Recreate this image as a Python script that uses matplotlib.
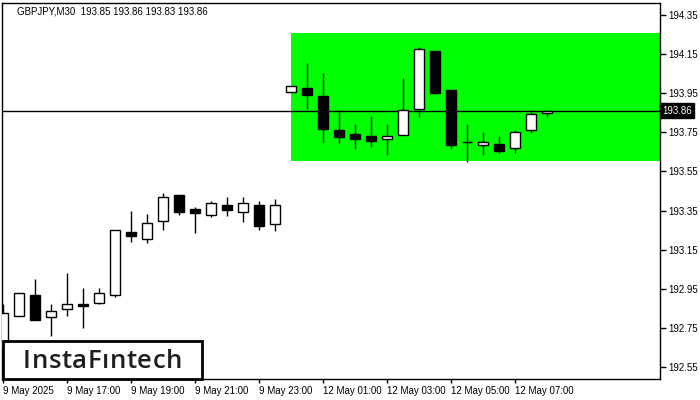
import matplotlib
matplotlib.use("Agg")
import matplotlib.pyplot as plt
from matplotlib.patches import Rectangle
from matplotlib.transforms import blended_transform_factory

# ---- data ----
opens = [192.64, 192.81, 192.92, 192.805, 192.845, 192.872, 192.88, 192.92, 193.24, 193.205,
         193.295, 193.43, 193.357, 193.326, 193.377, 193.344, 193.377, 193.283, 193.955, 193.975,
         193.936, 193.762, 193.742, 193.731, 193.718, 193.738, 193.871, 194.164, 193.965, 193.699,
         193.687, 193.69, 193.668, 193.76, 193.85]
highs = [192.87, 192.93, 193.00, 192.87, 193.03, 192.955, 192.955, 193.25, 193.35, 193.33,
         193.44, 193.43, 193.367, 193.40, 193.42, 193.42, 193.40, 193.41, 193.985, 194.105,
         194.053, 193.863, 193.793, 193.834, 193.793, 194.028, 194.186, 194.164, 193.965, 193.793,
         193.752, 193.731, 193.762, 193.863, 193.86]
lows = [192.60, 192.81, 192.79, 192.71, 192.81, 192.75, 192.87, 192.91, 193.19, 193.185,
        193.25, 193.325, 193.237, 193.316, 193.324, 193.293, 193.252, 193.247, 193.955, 193.871,
        193.697, 193.697, 193.666, 193.677, 193.636, 193.738, 193.83, 193.953, 193.666, 193.60,
        193.636, 193.646, 193.646, 193.748, 193.83]
closes = [192.825, 192.93, 192.79, 192.835, 192.87, 192.864, 192.93, 193.25, 193.22, 193.285,
          193.42, 193.345, 193.336, 193.387, 193.355, 193.387, 193.273, 193.377, 193.985, 193.943,
          193.769, 193.728, 193.718, 193.707, 193.731, 193.863, 194.175, 193.953, 193.687, 193.699,
          193.699, 193.656, 193.75, 193.842, 193.86]

x_tick_idx = [0, 4, 8, 12, 16, 20, 24, 28, 32]
x_tick_labels = ['9 May 2025', '9 May 17:00', '9 May 19:00', '9 May 21:00', '9 May 23:00',
                 '12 May 01:00', '12 May 03:00', '12 May 05:00', '12 May 07:00']
y_ticks = [192.55, 192.75, 192.95, 193.15, 193.35, 193.55, 193.75, 193.95, 194.15, 194.35]

zone_start = 18
zone_top = 194.258
zone_bottom = 193.605
current_price = 193.86
title = "GBPJPY,M30  193.85 193.86 193.83 193.86"
logo = "InstaF\u0131ntech"

FONT = "Liberation Sans"

fig = plt.figure(figsize=(7, 4), dpi=100)
fig.patch.set_facecolor("white")
ax = fig.add_axes([2/700, 21/400, 658/700, 376/400])

xmin, xmax = -0.08, 41.04
ax.set_xlim(xmin, xmax)
ax.set_ylim(192.489, 194.411)

# green zone
ax.add_patch(Rectangle((zone_start, zone_bottom), xmax - zone_start + 1, zone_top - zone_bottom,
                       facecolor="#00ff00", edgecolor="none", zorder=1))

# current price line
ax.axhline(current_price, color="black", lw=1, zorder=2)

# candles
w = 0.62
for i, (o, h, l, c) in enumerate(zip(opens, highs, lows, closes)):
    ax.vlines(i, l, h, color="black", lw=1, zorder=3)
    if abs(c - o) < 1e-6:
        ax.hlines(o, i - w/2, i + w/2, color="black", lw=1, zorder=4)
    else:
        fc = "white" if c > o else "black"
        ax.add_patch(Rectangle((i - w/2, min(o, c)), w, abs(c - o),
                               facecolor=fc, edgecolor="black", lw=1, zorder=4))

# axes styling
for s in ax.spines.values():
    s.set_color("black")
    s.set_linewidth(1)
ax.yaxis.tick_right()
ax.set_yticks(y_ticks)
ax.set_yticklabels([f"{v:.2f}" for v in y_ticks], fontsize=7, family=FONT)
ax.tick_params(axis="y", direction="out", length=4, width=1, pad=2, colors="black")
ax.set_xticks(x_tick_idx)
ax.set_xticklabels(x_tick_labels, fontsize=7, family=FONT, ha="left")
ax.tick_params(axis="x", direction="out", length=3, width=1, pad=2, colors="black")

# price label on axis
tr = blended_transform_factory(ax.transAxes, ax.transData)
ax.text(1.003, current_price, f"{current_price:.2f}", transform=tr, fontsize=7, family=FONT,
        color="white", ha="left", va="center", zorder=10, clip_on=False,
        bbox=dict(boxstyle="square,pad=0.25", facecolor="black", edgecolor="black"))

# title
fig.text(17/700, 1 - 11/400, title, fontsize=7, family=FONT, color="black", ha="left", va="center")

# logo box
fig.patches.append(Rectangle((3/700, 21/400), 199/700, 38/400, transform=fig.transFigure,
                             facecolor="white", edgecolor="black", lw=2, zorder=20))

# logo text with slight letter tracking to span x 23..182 px
renderer = fig.canvas.get_renderer()
logo_kw = dict(fontsize=18.5, family="Open Sans", weight="semibold", color="#1e1e1e",
               ha="left", va="baseline", zorder=21)
widths = []
for ch in logo:
    t = fig.text(0, 0, ch, **logo_kw)
    bb = t.get_window_extent(renderer)
    widths.append(bb.width)
    t.remove()
x_left, x_right = 23, 182
gap = (x_right - x_left - sum(widths)) / (len(logo) - 1)
xp = x_left
baseline_y = 400 - 368
for ch, wd in zip(logo, widths):
    fig.text(xp/700, baseline_y/400, ch, **logo_kw)
    xp += wd + gap

fig.savefig("out.png", dpi=100)
